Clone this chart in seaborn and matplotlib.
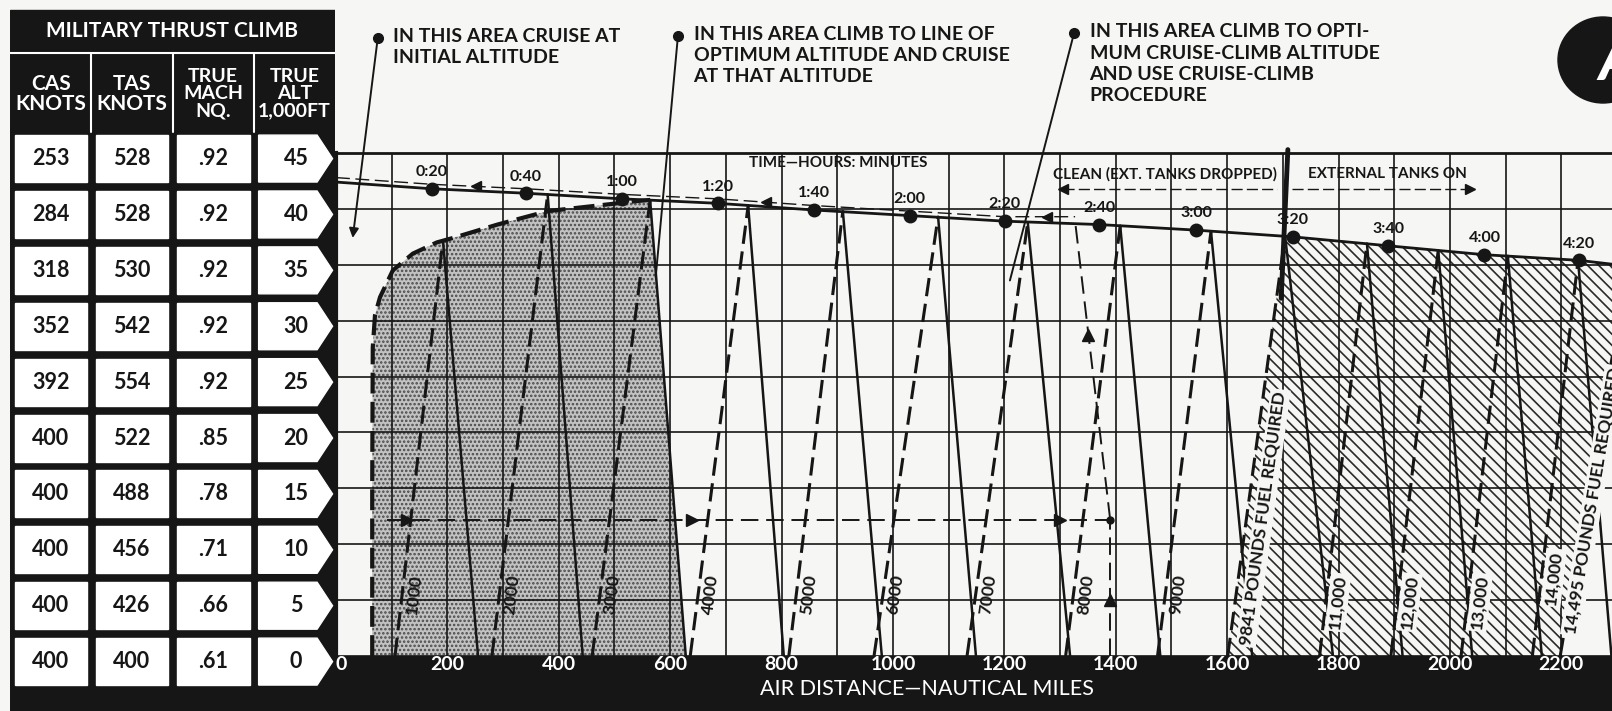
import numpy as np
import matplotlib.pyplot as plt
import seaborn as sns
from matplotlib.patches import Rectangle, Polygon, Ellipse

sns.set_theme(style="white")
plt.rcParams["font.family"] = ["Lato", "DejaVu Sans"]
plt.rcParams["font.weight"] = "bold"
plt.rcParams["hatch.linewidth"] = 1.2

INK = "#161616"
PAPER = "#f6f6f4"

# ---- military thrust climb table ----
table_alt = [45, 40, 35, 30, 25, 20, 15, 10, 5, 0]
table_cas = [253, 284, 318, 352, 392, 400, 400, 400, 400, 400]
table_tas = [528, 528, 530, 542, 554, 522, 488, 456, 426, 400]
table_mach = [".92", ".92", ".92", ".92", ".92", ".85", ".78", ".71", ".66", ".61"]
table_headers = ["CAS\nKNOTS", "TAS\nKNOTS", "TRUE\nMACH\nNQ.", "TRUE\nALT\n1,000FT"]

# ---- optimum altitude / cruise line with time marks ----
time_labels = ["0:20", "0:40", "1:00", "1:20", "1:40", "2:00", "2:20",
               "2:40", "3:00", "3:20", "3:40", "4:00", "4:20"]
time_dist = [172, 341, 513, 685, 858, 1030, 1201, 1370, 1544, 1718, 1889, 2062, 2231]
time_alt = [41.8, 41.4, 40.9, 40.5, 39.9, 39.4, 38.9, 38.6, 38.1, 37.5, 36.7, 35.9, 35.4]
cruise_dist = [0, 172, 341, 513, 685, 858, 1030, 1201, 1370, 1544, 1718, 1889, 2062, 2231, 2300]
cruise_alt = [42.4, 41.8, 41.4, 40.9, 40.5, 39.9, 39.4, 38.9, 38.6, 38.1, 37.5, 36.7, 35.9, 35.4, 35.0]

# ---- fuel required lines (dashed climb leg up to peak, solid leg down) ----
fuel_labels = ["1000", "2000", "3000", "4000", "5000", "6000", "7000", "8000",
               "9000", "9841", "11,000", "12,000", "13,000", "14,000"]
dash_base = [106, 280, 460, 636, 813, 966, 1133, 1310, 1475, 1601, 1766, 1894, 2020, 2148]
peak_dist = [192, 380, 564, 740, 910, 1081, 1242, 1408, 1571, 1704, 1851, 1979, 2104, 2230]
peak_alt = [37.2, 41.3, 40.8, 40.3, 39.8, 39.3, 38.8, 38.5, 38.0, 37.6, 36.9, 36.3, 35.8, 35.4]
solid_base = [255, 443, 628, 804, 980, 1149, 1318, 1480, 1645, 1790, 1915, 2040, 2165, 2290]
label_alt = [5.5, 5.5, 5.5, 5.5, 5.5, 5.5, 5.5, 5.5, 5.5, 1.0, 4.8, 4.8, 4.8, 7.0]

# left edge of the "cruise at initial altitude" area
edge_dist = [65, 65, 66, 70, 79, 102, 138, 181, 210, 290, 380, 470, 540, 564]
edge_alt = [0, 15, 27.6, 30.5, 32.1, 34.5, 36.0, 37.0, 37.4, 38.6, 39.8, 40.3, 40.7, 40.8]

# 14,495 lb limit line
limit_dist = [2198, 2262, 2300]
limit_alt = [0, 19, 29]

# worked example
example_alt = 12.2
example_start = 92
example_end = 1390
example_top = (1327, 38.9)

x_ticks = [0, 200, 400, 600, 800, 1000, 1200, 1400, 1600, 1800, 2000, 2200]

W, H = 1612, 711
fig = plt.figure(figsize=(W / 100, H / 100), dpi=100, facecolor=PAPER)

# chart axes: alt 0 at y=656 px, alt 45 at y=153 px, dist 0 at x=336 px
ax = fig.add_axes([336 / W, 55 / H, 1276 / W, 503 / H], facecolor=PAPER)
ax.set_xlim(0, 2291)
ax.set_ylim(0, 45)

# table axes on the same vertical scale
tax = fig.add_axes([10 / W, 0, 325 / W, 1])
tax.set_xlim(0, 4)
tax.set_ylim(-55 / 11.18, 45 + 153 / 11.18)
tax.axis("off")

# ---------- grid ----------
ax.set_yticks(table_alt)
ax.set_xticks(x_ticks)
ax.set_xticklabels([str(v) for v in x_ticks])
ax.set_xticks(np.arange(100, 2300, 100), minor=True)
ax.grid(True, which="both", color=INK, lw=1.2)
ax.set_axisbelow("line")
ax.tick_params(axis="x", which="both", length=0, pad=0, labelsize=14, labelcolor="white")
ax.tick_params(axis="y", left=False, labelleft=False)
ax.get_xticklabels()[0].set_ha("left")
for side in ["right", "bottom"]:
    ax.spines[side].set_visible(False)
ax.spines["top"].set_color(INK)
ax.spines["top"].set_linewidth(2)
ax.spines["left"].set_color(INK)
ax.spines["left"].set_linewidth(3)
ax.set_xlabel("AIR DISTANCE\u2014NAUTICAL MILES", color="white", fontsize=15.5)
ax.xaxis.set_label_coords((927 - 336) / 1276, -33 / 503)
ax.xaxis.label.set_va("center")

# black band under the chart
fig.add_artist(Rectangle((334 / W, 0), 1, 55 / H, transform=fig.transFigure,
                         color=INK, zorder=-1))

# ---------- shaded areas ----------
stip_x = edge_dist + [peak_dist[2], solid_base[2]]
stip_y = edge_alt + [peak_alt[2], 0]
ax.fill(stip_x, stip_y, facecolor="#c2c2c2", edgecolor="#4a4a4a", hatch="....",
        linewidth=0, zorder=1)

top_mask = np.array(cruise_dist) > peak_dist[9]
hatch_x = [dash_base[9], peak_dist[9]] + list(np.array(cruise_dist)[top_mask]) + limit_dist[::-1]
hatch_y = [0, peak_alt[9]] + list(np.array(cruise_alt)[top_mask]) + limit_alt[::-1]
ax.fill(hatch_x, hatch_y, facecolor="none", edgecolor="#2a2a2a", hatch="\\\\\\",
        linewidth=0, zorder=1)

# initial altitude boundary
ax.plot(edge_dist, edge_alt, color=INK, lw=3, ls=(0, (5, 2)), zorder=3)

# ---------- fuel lines ----------
fig.canvas.draw()
to_px = ax.transData.transform
clear = dict(boxstyle="square,pad=0.12", facecolor=PAPER, edgecolor="none")
for i, lab in enumerate(fuel_labels):
    ax.plot([dash_base[i], peak_dist[i]], [0, peak_alt[i]], color=INK, lw=2.2,
            ls=(0, (6, 2.5)), zorder=3)
    ax.plot([peak_dist[i], solid_base[i]], [peak_alt[i], 0], color=INK, lw=1.8, zorder=3)
    p0 = to_px((dash_base[i], 0))
    p1 = to_px((peak_dist[i], peak_alt[i]))
    ang = np.degrees(np.arctan2(p1[1] - p0[1], p1[0] - p0[0]))
    frac = label_alt[i] / peak_alt[i]
    lx = dash_base[i] + frac * (peak_dist[i] - dash_base[i]) + 22
    if lab == "9841":
        ax.text(lx + 8, label_alt[i], "9841 POUNDS FUEL REQUIRED", rotation=ang,
                rotation_mode="anchor", ha="left", va="center", fontsize=12.5,
                color=INK, zorder=4, bbox=clear)
    else:
        ax.text(lx, label_alt[i], lab, rotation=ang, rotation_mode="anchor",
                ha="center", va="center", fontsize=12.5, color=INK, zorder=4,
                bbox=clear if i > 9 else None)

ax.plot(limit_dist, limit_alt, color=INK, lw=2.2, ls=(0, (6, 2.5)), zorder=3)
q0 = to_px((limit_dist[0], limit_alt[0]))
q1 = to_px((limit_dist[1], limit_alt[1]))
ang = np.degrees(np.arctan2(q1[1] - q0[1], q1[0] - q0[0]))
ax.text(limit_dist[0] + 18, 2.0, "14,495 POUNDS FUEL REQUIRED", rotation=ang,
        rotation_mode="anchor", ha="left", va="center", fontsize=12.5, color=INK,
        zorder=4, clip_on=False, bbox=clear)

# ---------- cruise line and time marks ----------
ax.plot(cruise_dist, cruise_alt, color=INK, lw=2, zorder=4)
ax.plot(time_dist, time_alt, "o", color=INK, ms=9, zorder=5)
for d, a, lab in zip(time_dist, time_alt, time_labels):
    ax.annotate(lab, (d, a), xytext=(0, 7), textcoords="offset points",
                ha="center", va="bottom", fontsize=11.5, color=INK, zorder=5)
ax.text(901, 44.1, "TIME\u2014HOURS: MINUTES", ha="center", va="center",
        fontsize=11, color=INK)

# clean / external tanks separator
ax.plot([1709, 1697], [45.3, 32.0], color=INK, lw=3.5, zorder=5, clip_on=False)
ax.text(1689, 43.1, "CLEAN (EXT. TANKS DROPPED)", ha="right", va="center",
        fontsize=11, color=INK)
ax.text(1745, 43.1, "EXTERNAL TANKS ON", ha="left", va="center",
        fontsize=11, color=INK)
ax.plot([1305, 1690], [41.8, 41.8], color=INK, lw=1, ls=(0, (8, 3)))
ax.plot([1716, 2036], [41.8, 41.8], color=INK, lw=1, ls=(0, (8, 3)))
ax.plot([1305], [41.8], "<", color=INK, ms=7)
ax.plot([2036], [41.8], ">", color=INK, ms=7)

# ---------- worked example ----------
ax.plot([example_start, example_end], [example_alt, example_alt], color=INK, lw=1.4,
        ls=(0, (9, 4)), zorder=4)
ax.plot([127, 640, 1300], [example_alt] * 3, ">", color=INK, ms=8, zorder=4)
ax.plot([example_end, example_end], [0, example_alt], color=INK, lw=1.4,
        ls=(0, (9, 4)), zorder=4)
ax.plot([example_end], [5], "^", color=INK, ms=8, zorder=4)
ax.plot([example_end], [example_alt], "o", color=INK, ms=5, zorder=4)
ax.plot([example_end, example_top[0]], [example_alt, example_top[1]], color=INK,
        lw=1.4, ls=(0, (9, 4)), zorder=4)
ax.plot([example_end - (example_end - example_top[0]) * 0.62],
        [example_alt + (example_top[1] - example_alt) * 0.62], "^", color=INK, ms=8, zorder=4)
back = np.array(cruise_dist) < example_top[0]
back_x = list(np.array(cruise_dist)[back]) + [example_top[0]]
back_y = list(np.array(cruise_alt)[back] + 0.4) + [example_top[1] + 0.4]
ax.plot(back_x, back_y, color=INK, lw=1, ls=(0, (10, 4)), zorder=4)
ax.plot([251, 772, 1276], np.interp([251, 772, 1276], back_x, back_y), "<",
        color=INK, ms=7, zorder=4)

# ---------- area notes ----------
notes = [
    ("IN THIS AREA CRUISE AT\nINITIAL ALTITUDE", (75, 55.3), (30, 37.4), True),
    ("IN THIS AREA CLIMB TO LINE OF\nOPTIMUM ALTITUDE AND CRUISE\nAT THAT ALTITUDE",
     (614, 55.5), (574, 33.9), False),
    ("IN THIS AREA CLIMB TO OPTI-\nMUM CRUISE-CLIMB ALTITUDE\nAND USE CRUISE-CLIMB\nPROCEDURE",
     (1325, 55.7), (1210, 33.6), False),
]
for txt, dot, tip, head in notes:
    ax.plot([dot[0]], [dot[1]], "o", color=INK, ms=7, clip_on=False, zorder=6)
    ax.annotate("", xy=tip, xytext=dot, annotation_clip=False, zorder=6,
                arrowprops=dict(arrowstyle="-|>" if head else "-", color=INK, lw=1.4,
                                mutation_scale=14, shrinkA=0, shrinkB=0))
    ax.text(dot[0] + 28, dot[1] + 0.9, txt, ha="left", va="top", fontsize=14,
            linespacing=1.3, color=INK)

# badge
fig.add_artist(Ellipse((1603 / W, 1 - 60 / H), 90 / W, 86 / H, transform=fig.transFigure,
                       color=INK, zorder=3))
fig.text(1598 / W, 1 - 62 / H, "A", ha="left", va="center", color="white",
         fontsize=44, style="italic", zorder=4)

# ---------- table ----------
tax.add_patch(Rectangle((0, -5), 4, 45 + 143 / 11.18 + 5, color=INK))
tax.plot([0, 4], [53.94, 53.94], color="white", lw=1.5)
for j in (1, 2, 3):
    tax.plot([j, j], [46.9, 53.94], color="white", lw=1.5)
tax.text(2, 55.9, "MILITARY THRUST CLIMB", ha="center", va="center",
         color="white", fontsize=15)
for j, h in enumerate(table_headers):
    tax.text(j + 0.5, 50.3, h, ha="center", va="center", color="white",
             fontsize=15 if j < 2 else 14, linespacing=1.0)

for a, cas, tas, mach in zip(table_alt, table_cas, table_tas, table_mach):
    c = a - 0.5
    for j in range(3):
        tax.add_patch(Rectangle((j + 0.06, c - 2.1), 0.89, 4.2, color="white"))
    tax.add_patch(Polygon([(3.06, c - 2.1), (3.78, c - 2.1), (3.97, c), (3.78, c + 2.1),
                           (3.06, c + 2.1)], closed=True, color="white"))
    for j, v in enumerate([cas, tas, mach]):
        tax.text(j + 0.5, c, str(v), ha="center", va="center", color=INK, fontsize=15.5)
    tax.text(3.52, c, str(a), ha="center", va="center", color=INK, fontsize=15.5)

fig.savefig("out.png", dpi=100, facecolor=PAPER)
